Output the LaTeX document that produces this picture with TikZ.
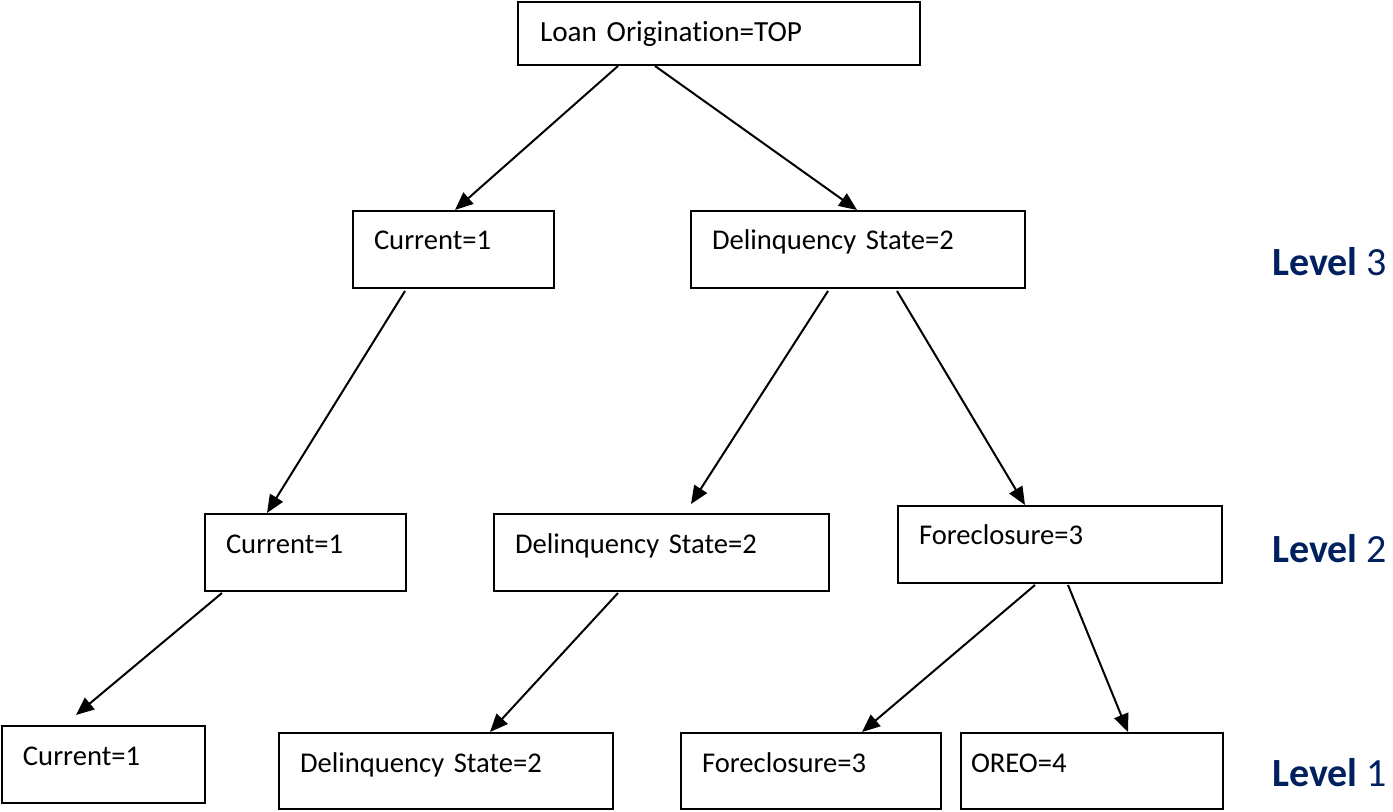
\documentclass[tikz,border=0pt]{standalone}
\usepackage{fontspec}
\setmainfont{Carlito}[Ligatures=NoCommon]
\usetikzlibrary{arrows.meta,calc}
\definecolor{levelblue}{RGB}{0,32,96}
\begin{document}
\begin{tikzpicture}[x=0.5pt,y=-0.5pt,
        box/.style={draw, line width=1pt, anchor=north west, align=left,
            inner xsep=10.5pt, inner ysep=0pt, text width=#1,
            text height=19.5pt, text depth=19pt, font=\fontsize{14.3}{17}\selectfont},
        link/.style={line width=1pt, -{Triangle[length=9pt,width=7.5pt]}},
        level/.style={anchor=base west, text=levelblue, inner sep=0pt,
            font=\fontsize{20}{24}\selectfont}]
        \useasboundingbox (0,0) rectangle (1393,812);
        % level 3
        \node [box=179pt, inner xsep=11pt, text height=20pt, text depth=11.5pt,
            font=\fontsize{14.6}{18}\selectfont] (top) at (517,1) {Loan Origination=TOP};
        \node [box=79.5pt] (cur3) at (352,210) {Current=1};
        \node [box=146pt]  (del3) at (690,210) {Delinquency State=2};
        % level 2
        \node [box=79.5pt]  (cur2) at (204,513) {Current=1};
        \node [box=146.5pt] (del2) at (493,513) {Delinquency State=2};
        \node [box=141pt]   (for2) at (897,505) {Foreclosure=3};
        % level 1
        \node [box=80.5pt] (cur1) at (1,725) {Current=1};
        \node [box=146pt, text depth=18.5pt]  (del1) at (278,732) {Delinquency State=2};
        \node [box=109pt, text depth=18.5pt]  (for1) at (680,732) {Foreclosure=3};
        \node [box=121pt, inner xsep=5pt, text depth=18.5pt] (oreo) at (960,732) {OREO=4};
        \node [level] (lev3) at (1272,276) {\textbf{Level} 3};
        \node [level] (lev2) at (1272,563) {\textbf{Level} 2};
        \node [level] (lev1) at (1272,786) {\textbf{Level} 1};
        \draw [link] ($(top.south west)+(101,0)$) -- ($(cur3.north west)+(103,0)$);
        \draw [link] ($(top.south west)+(138,0)$) -- ($(del3.north west)+(167,0)$);
        \draw [link] ($(cur3.south west)+(53,2)$) -- ($(cur2.north west)+(63,0)$);
        \draw [link] ($(del3.south west)+(138,2)$) -- ($(del2.north west)+(198,-9)$);
        \draw [link] ($(del3.south west)+(207,2)$) -- ($(for2.north west)+(128,0)$);
        \draw [link] ($(cur2.south west)+(18,1)$) -- ($(cur1.north west)+(75,-10)$);
        \draw [link] ($(del2.south west)+(125,1)$) -- ($(del1.north west)+(212,0)$);
        \draw [link] ($(for2.south west)+(138,1)$) -- ($(for1.north west)+(182,0)$);
        \draw [link] ($(for2.south west)+(171,1)$) -- ($(oreo.north west)+(168,0)$);
    \end{tikzpicture}
\end{document}
